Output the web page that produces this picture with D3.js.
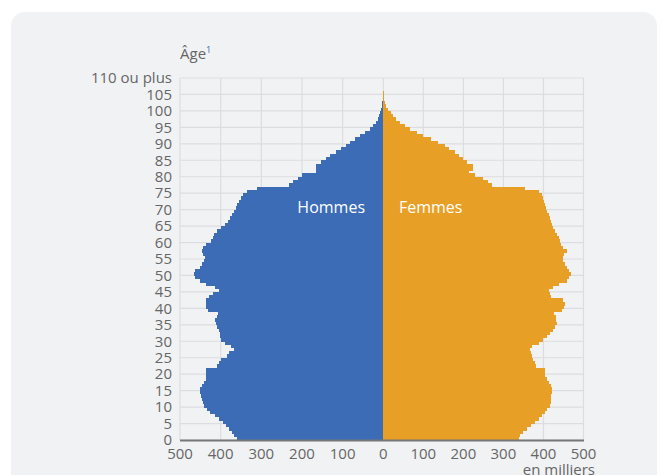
<!DOCTYPE html>
<html lang="fr">
<head>
<meta charset="utf-8">
<script src="https://cdn.jsdelivr.net/npm/d3@7"></script>
<style>
  html, body { margin: 0; padding: 0; background: #fff; }
  svg { display: block; font-family: "Open Sans", sans-serif; }
</style>
</head>
<body>
<div id="chart"></div>
<script>
  // population par âge au 1er janvier, en milliers (âges 0 à 110 ou plus)
  var hommes = [
    360, 366, 373, 380, 386, 395, 404, 414, 425, 434,
    440, 444, 447, 448, 450, 451, 447, 442, 437, 437,
    437, 437, 408, 403, 398, 385, 380, 367, 375, 390,
    398, 402, 402, 405, 410, 412, 413, 410, 406, 430,
    437, 437, 437, 428, 418, 403, 413, 437, 450, 462,
    466, 463, 452, 446, 440, 438, 444, 446, 444, 436,
    423, 418, 416, 408, 398, 390, 383, 377, 372, 366,
    362, 360, 354, 350, 346, 334, 310, 231, 223, 211,
    200, 166, 165, 165, 152, 140, 132, 116, 103, 91,
    83, 70, 58, 45, 33, 25, 19, 14, 10, 7,
    5, 3, 2, 1, 0, 0, 0, 0, 0, 0, 0
  ];
  var femmes = [
    338, 342, 350, 360, 370, 380, 388, 396, 403, 410,
    416, 418, 419, 420, 421, 422, 419, 413, 408, 405,
    404, 404, 381, 378, 375, 371, 369, 367, 371, 390,
    400, 410, 417, 424, 429, 433, 432, 431, 427, 446,
    452, 454, 450, 420, 416, 415, 424, 438, 458, 465,
    468, 464, 458, 454, 448, 448, 452, 460, 450, 444,
    441, 440, 434, 428, 424, 421, 419, 417, 413, 410,
    407, 404, 401, 399, 397, 390, 355, 272, 262, 248,
    230, 214, 224, 224, 208, 200, 190, 180, 163, 155,
    137, 120, 98, 84, 67, 54, 42, 32, 25, 18,
    12, 7, 3, 2, 2, 1, 0, 0, 0, 0, 0
  ];
  var ageTicks = d3.range(0, 111, 5);
  var ageLabels = ageTicks.map(function(a) { return a === 110 ? '110 ou plus' : String(a); });
  var popTicks = [0, 100, 200, 300, 400, 500];

  var width = 667, height = 475;
  var blue = '#3b6cb5', orange = '#e89f26';
  var grid = '#dcdde1', textColor = '#666';

  var svg = d3.select('#chart')
      .append('svg')
      .attr('width', width)
      .attr('height', height);

  // carte grise
  svg.append('rect')
    .attr('x', 11)
    .attr('y', 12)
    .attr('width', 646)
    .attr('height', 520)
    .attr('rx', 14)
    .attr('fill', '#f1f2f4');

  var center = 383.3;
  var xLeft = d3.scaleLinear().domain([0, 500]).range([center, 180]);
  var xRight = d3.scaleLinear().domain([0, 500]).range([center, 583.5]);
  var y = d3.scaleLinear().domain([0, 110]).range([440, 78]);

  // grille
  var g = svg.append('g');
  g.selectAll('.hgrid')
    .data(ageTicks)
    .enter().append('line')
    .attr('x1', 180).attr('x2', 584)
    .attr('y1', function(d) { return y(d); })
    .attr('y2', function(d) { return y(d); })
    .attr('stroke', grid)
    .attr('stroke-width', 1.2);

  var vTicks = popTicks.map(function(d) { return xLeft(d); })
      .concat(popTicks.slice(1).map(function(d) { return xRight(d); }));
  g.selectAll('.vgrid')
    .data(vTicks)
    .enter().append('line')
    .attr('x1', function(d) { return d; })
    .attr('x2', function(d) { return d; })
    .attr('y1', y(110)).attr('y2', y(0))
    .attr('stroke', grid)
    .attr('stroke-width', 1.2);

  // barres
  var ages = d3.range(hommes.length);
  svg.append('g')
    .attr('shape-rendering', 'crispEdges')
    .selectAll('rect')
    .data(ages)
    .enter().append('rect')
    .attr('x', function(a) { return xLeft(hommes[a]); })
    .attr('width', function(a) { return center - xLeft(hommes[a]); })
    .attr('y', function(a) { return y(a + 1); })
    .attr('height', function(a) { return y(a) - y(a + 1) + 0.5; })
    .attr('fill', blue);

  svg.append('g')
    .attr('shape-rendering', 'crispEdges')
    .selectAll('rect')
    .data(ages)
    .enter().append('rect')
    .attr('x', center)
    .attr('width', function(a) { return xRight(femmes[a]) - center; })
    .attr('y', function(a) { return y(a + 1); })
    .attr('height', function(a) { return y(a) - y(a + 1) + 0.5; })
    .attr('fill', orange);

  // axe horizontal
  svg.append('line')
    .attr('x1', 180).attr('x2', 584)
    .attr('y1', y(0) + 0.5).attr('y2', y(0) + 0.5)
    .attr('stroke', '#777')
    .attr('stroke-width', 2);

  var xLabels = popTicks.slice().reverse().map(function(d) { return {v: d, x: xLeft(d)}; })
      .concat(popTicks.slice(1).map(function(d) { return {v: d, x: xRight(d)}; }));
  svg.append('g').selectAll('text')
    .data(xLabels)
    .enter().append('text')
    .attr('x', function(d) { return d.x; })
    .attr('y', 459)
    .attr('text-anchor', 'middle')
    .style('font-size', '15px')
    .attr('fill', textColor)
    .text(function(d) { return d.v; });

  svg.append('g').selectAll('text')
    .data(ageTicks)
    .enter().append('text')
    .attr('x', 172)
    .attr('y', function(d) { return y(d) + 5.3; })
    .attr('text-anchor', 'end')
    .style('font-size', '15px')
    .attr('fill', textColor)
    .text(function(d, i) { return ageLabels[i]; });

  // titres
  var titre = svg.append('text')
    .attr('x', 180)
    .attr('y', 58.5)
    .style('font-size', '15px')
    .attr('fill', textColor);
  titre.append('tspan').text('Âge');
  titre.append('tspan')
    .attr('dy', -6)
    .style('font-size', '9px')
    .attr('fill', blue)
    .text('1');

  svg.append('text')
    .attr('x', 595)
    .attr('y', 475)
    .attr('text-anchor', 'end')
    .style('font-size', '15px')
    .attr('fill', textColor)
    .text('en milliers');

  svg.append('text')
    .attr('x', 365)
    .attr('y', 212.5)
    .attr('text-anchor', 'end')
    .style('font-size', '16px')
    .attr('fill', '#fff')
    .text('Hommes');

  svg.append('text')
    .attr('x', 399)
    .attr('y', 212.5)
    .style('font-size', '16px')
    .attr('fill', '#fff')
    .text('Femmes');
</script>
</body>
</html>
